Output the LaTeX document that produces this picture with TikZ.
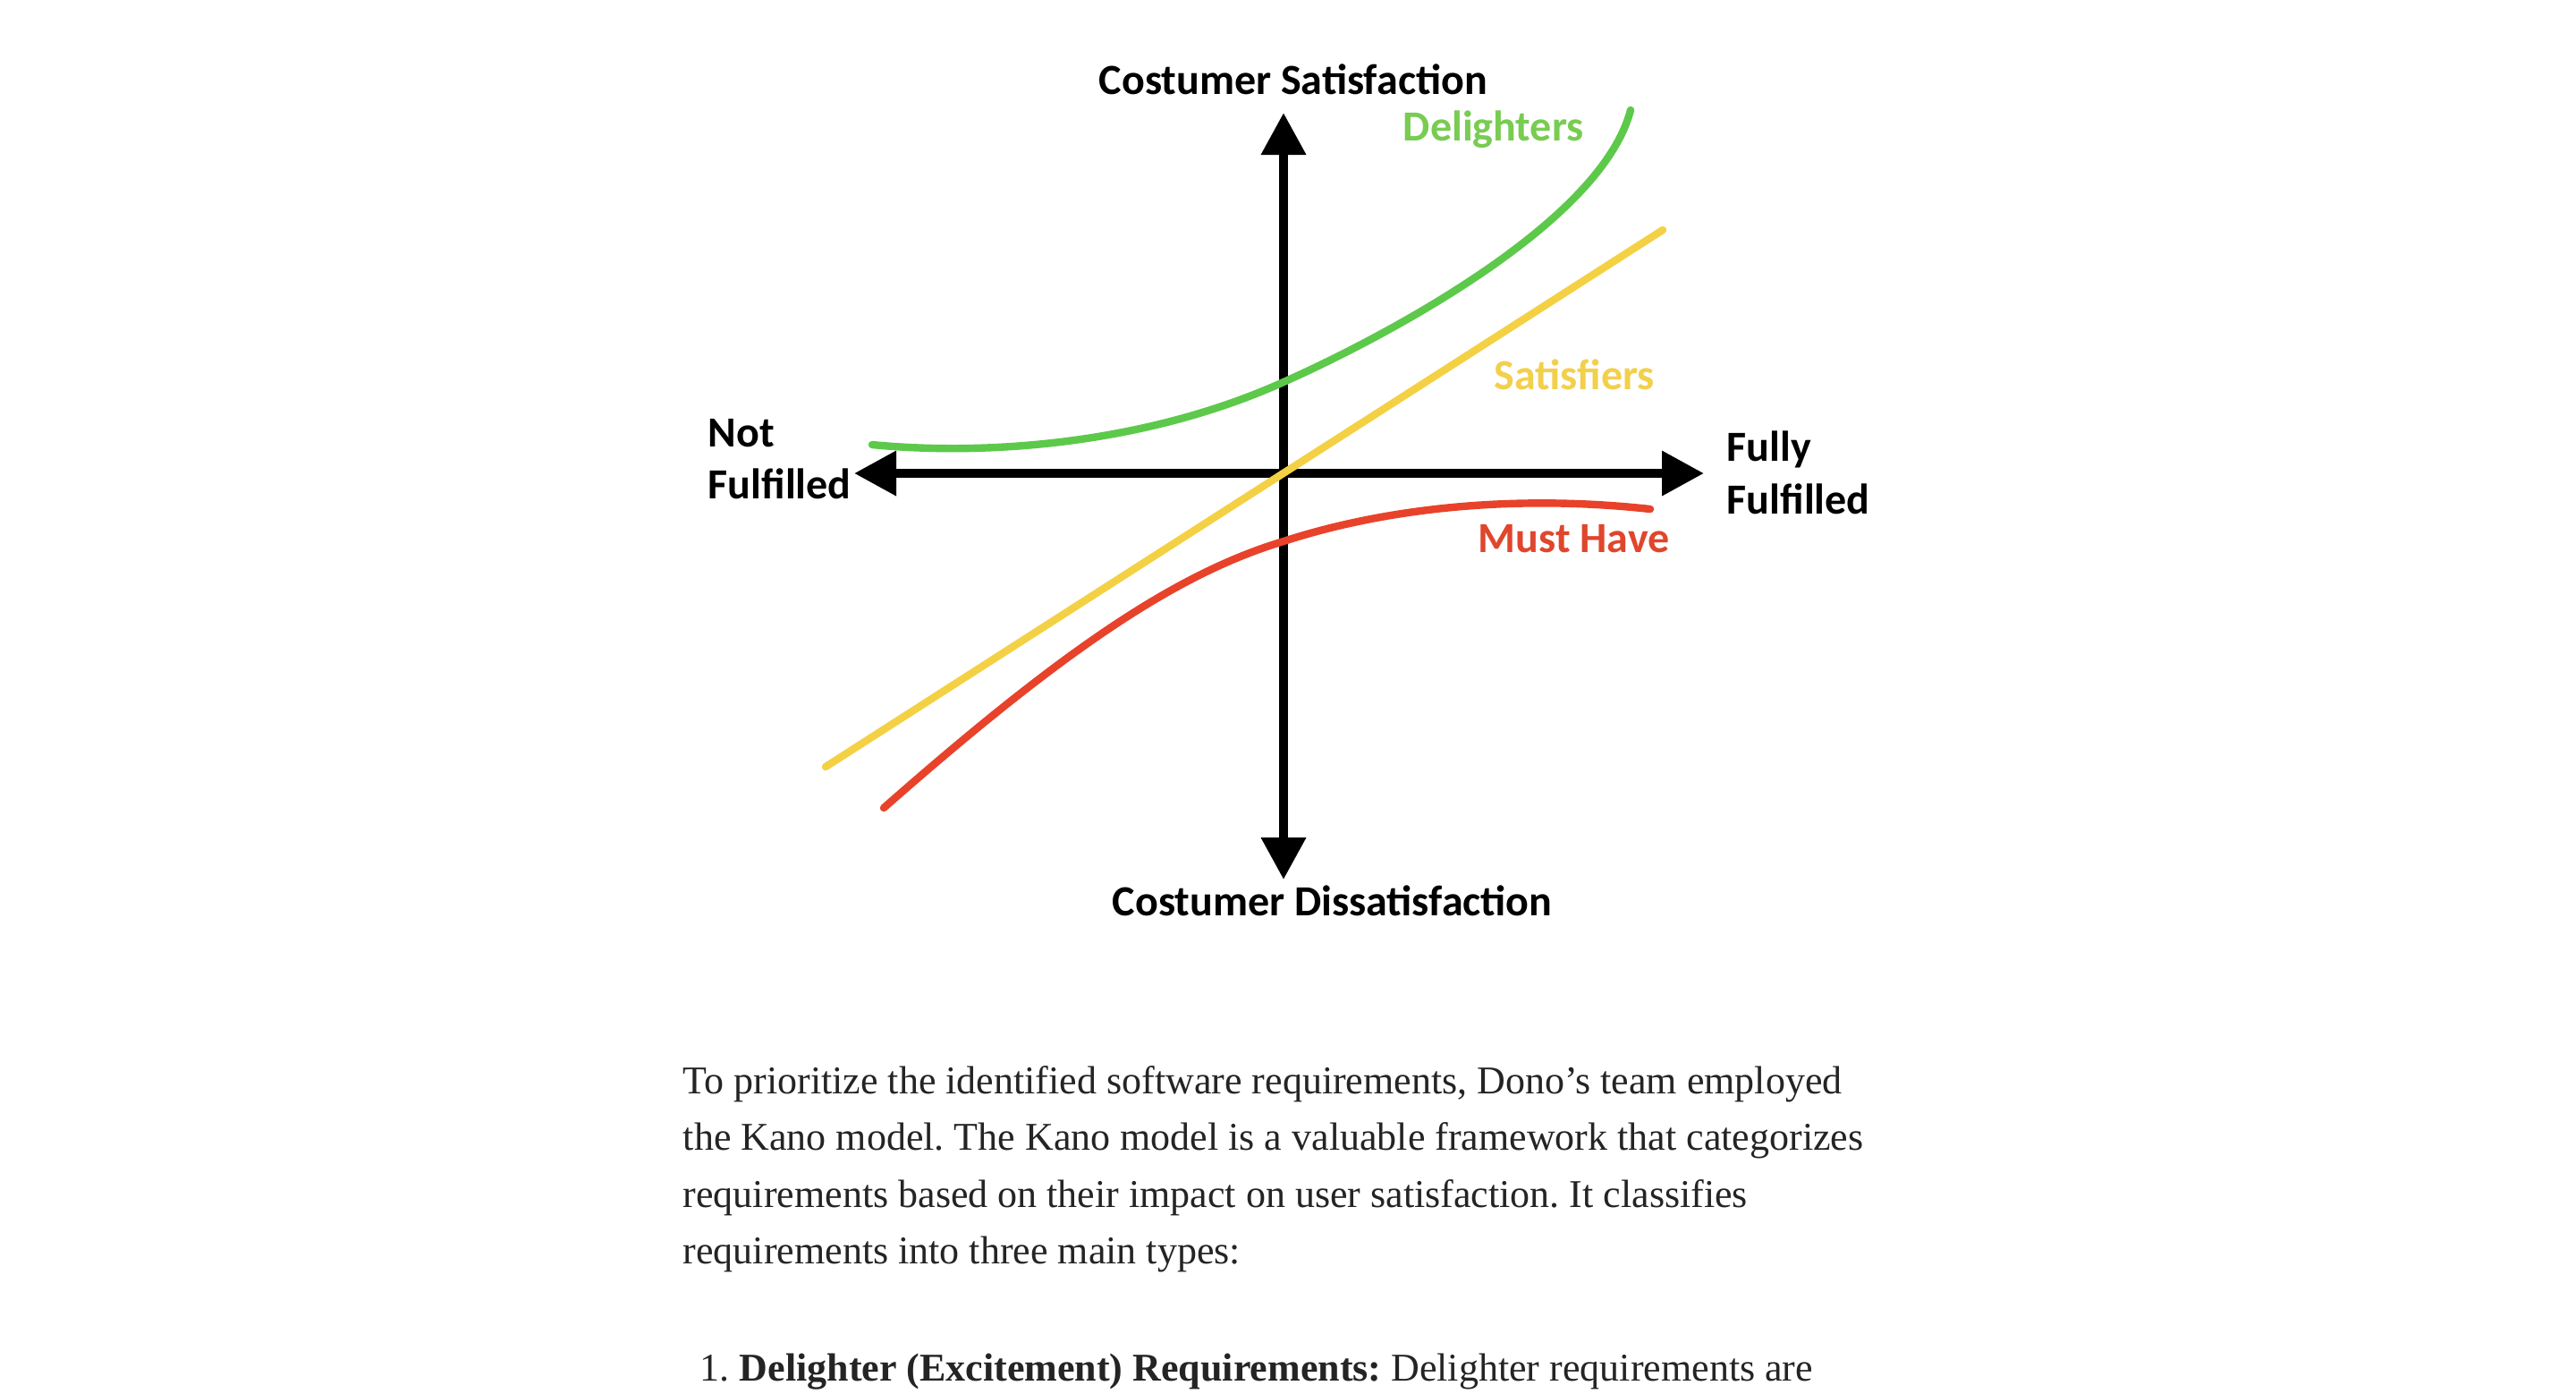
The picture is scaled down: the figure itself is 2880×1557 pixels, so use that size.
\documentclass[tikz,border=0pt]{standalone}
\usepackage{fontspec}
\setmainfont{Liberation Serif}
\newfontfamily\labelfont{Carlito}
\usetikzlibrary{arrows.meta}
\definecolor{bodytext}{HTML}{242424}
\definecolor{delgreen}{HTML}{5CC94A}
\definecolor{dellabel}{HTML}{78CC52}
\definecolor{satyellow}{HTML}{F4D144}
\definecolor{satlabel}{HTML}{F2D04C}
\definecolor{mustred}{HTML}{E8422B}
\definecolor{mustlabel}{HTML}{E0462C}
\tikzset{
  lbl/.style={anchor=base west, inner sep=0pt, font=\labelfont\bfseries\fontsize{12pt}{14.5pt}\selectfont, align=left},
  bodyline/.style={anchor=base west, inner sep=0pt, text=bodytext, font=\fontsize{11pt}{15.8pt}\selectfont\frenchspacing},
  axisline/.style={line width=2.5pt, black, {Triangle[length=11.75pt,width=12pt]}-{Triangle[length=11.75pt,width=12pt]}},
  curve/.style={line width=2.1pt, line cap=round}
}
\begin{document}
\begin{tikzpicture}[x=0.25pt,y=-0.25pt]
\useasboundingbox[fill=white] (0,0) rectangle (2880,1557);
% axes
\coordinate (top) at (1435,126);
\coordinate (bot) at (1435,983);
\coordinate (lft) at (955,529);
\coordinate (rgt) at (1905,529);
\draw[axisline] (bot) -- (top);
\draw[axisline] (lft) -- (rgt);
% curves
\draw[curve, delgreen] (975,497) .. controls (1110,510) and (1285,494.5) .. (1435,427)
   .. controls (1545,378) and (1790,250) .. (1823,123);
\draw[curve, satyellow] (923,857) -- (1859,257);
\draw[curve, mustred] (988,903) .. controls (1188,727) and (1315,641) .. (1435,605)
   .. controls (1555,566) and (1700,553) .. (1845,569);
% labels
\node[lbl] (sat) at (1228,105) {Costumer Satisfaction};
\node[lbl] (dis) at (1243,1023) {Costumer Dissatisfaction};
\node[lbl, text=dellabel] (del) at (1568,157) {Delighters};
\node[lbl, text=satlabel] (sf) at (1670,435) {Satisfiers};
\node[lbl, text=mustlabel] (mh) at (1652,617) {Must Have};
\node[lbl] (nf1) at (791,499) {Not};
\node[lbl] (nf2) at (791,557) {Fulfilled};
\node[lbl] (ff1) at (1930,515) {Fully};
\node[lbl] (ff2) at (1930,574) {Fulfilled};
% body text
\node[bodyline] (b1) at (763,1222) {To prioritize the identified software requirements, Dono’s team employed};
\node[bodyline] (b2) at (763,1285) {the Kano model. The Kano model is a valuable framework that categorizes};
\node[bodyline] (b3) at (763,1349) {requirements based on their impact on user satisfaction. It classifies};
\node[bodyline] (b4) at (763,1412) {requirements into three main types:};
\node[bodyline] (b5) at (782,1543) {1. \textbf{Delighter (Excitement) Requirements:} Delighter requirements are};
\end{tikzpicture}
\end{document}
